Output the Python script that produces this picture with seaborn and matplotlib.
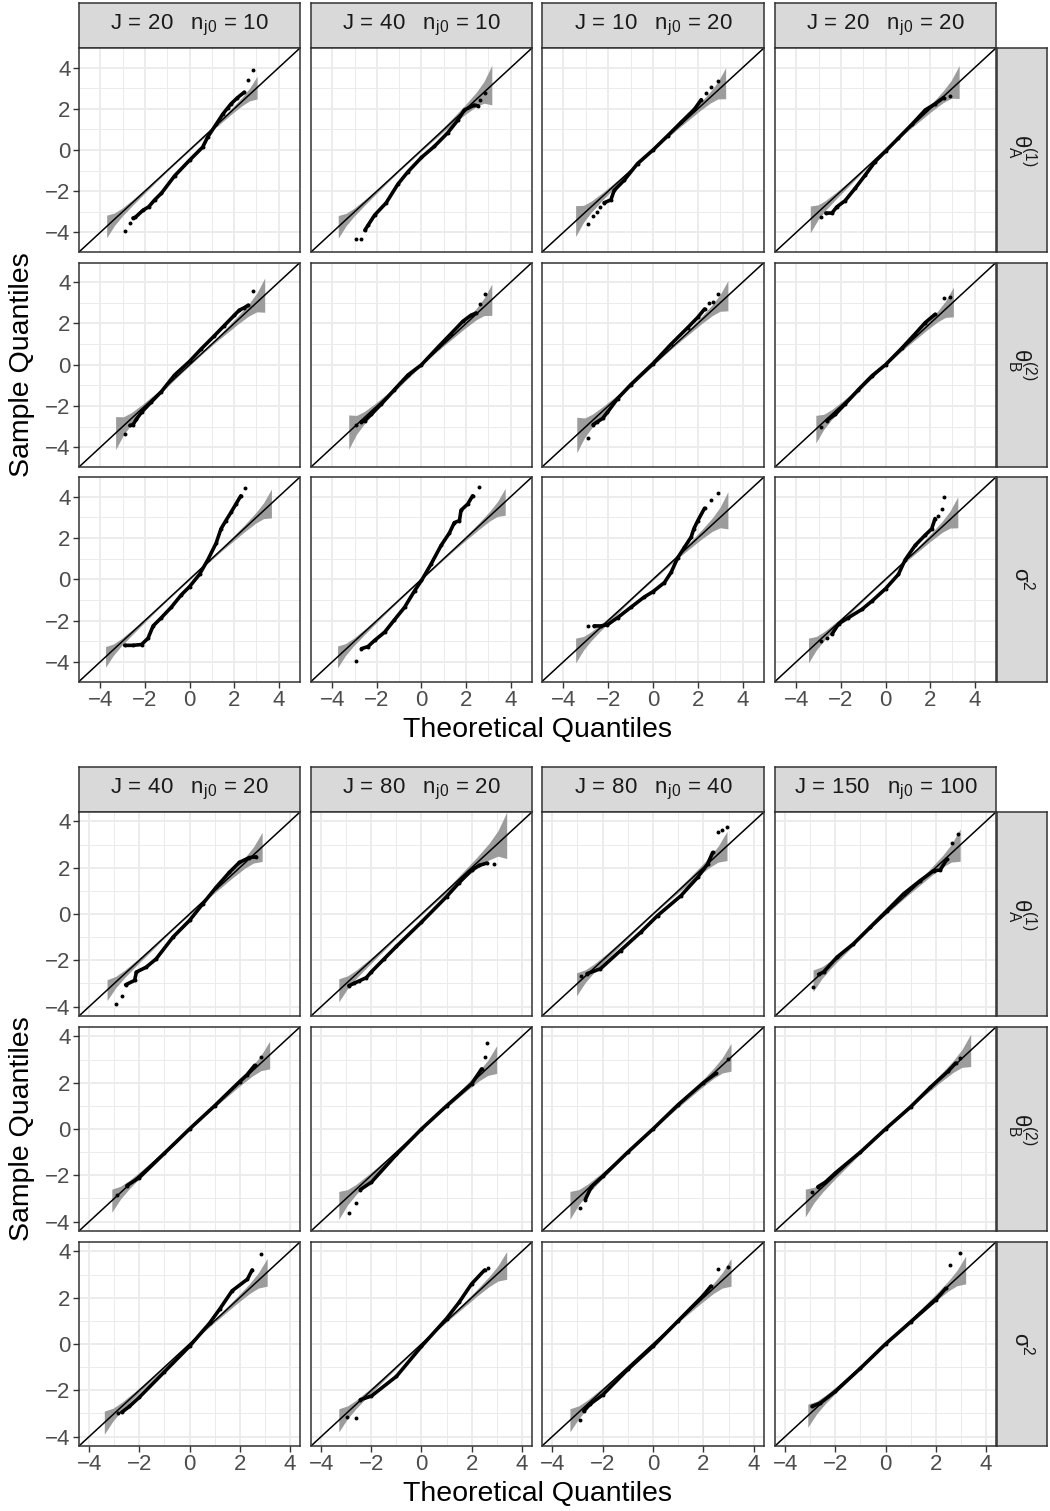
import numpy as np
import matplotlib
matplotlib.use("Agg")
import matplotlib.pyplot as plt
import seaborn as sns

# ---- facet labels ----
top_J = ["20", "40", "10", "20"]
top_n = ["10", "10", "20", "20"]
bot_J = ["40", "80", "80", "150"]
bot_n = ["20", "20", "40", "100"]
row_labels = [r"$\mathrm{\theta_A^{(1)}}$", r"$\mathrm{\theta_B^{(2)}}$", r"$\mathrm{\sigma^2}$"]

# ---- sample quantiles (theoretical x, sample y) ----
# top block, row theta_A
t11_x = [-2.90, -2.67, -2.53, -2.42, -2.08, -1.83, -1.56, -1.26, -0.67, 0.00, 0.59, 0.82, 1.19, 1.49, 1.71, 1.86, 2.15, 2.45, 2.60, 2.85]
t11_y = [-3.92, -3.52, -3.30, -3.26, -2.92, -2.76, -2.42, -2.10, -1.26, -0.50, 0.14, 0.64, 1.24, 1.74, 2.04, 2.24, 2.54, 2.80, 3.38, 3.90]
t12_x = [-2.92, -2.69, -2.54, -2.40, -2.10, -1.58, -1.06, -0.61, 0.00, 0.58, 1.18, 1.62, 1.92, 2.37, 2.54, 2.63, 2.84]
t12_y = [-4.30, -4.30, -3.90, -3.66, -3.16, -2.56, -1.66, -1.06, -0.36, 0.18, 0.84, 1.44, 1.94, 2.18, 2.14, 2.44, 2.78]
t13_x = [-2.90, -2.67, -2.51, -2.36, -2.18, -1.88, -1.73, -1.28, -0.69, 0.00, 0.66, 1.25, 1.85, 2.15, 2.37, 2.60, 2.90]
t13_y = [-3.60, -3.22, -3.02, -2.76, -2.56, -2.42, -1.96, -1.46, -0.66, 0.00, 0.70, 1.34, 1.98, 2.44, 2.78, 3.04, 3.34]
t14_x = [-2.88, -2.67, -2.40, -2.18, -1.81, -1.36, -0.91, -0.46, 0.00, 0.58, 1.18, 1.78, 2.22, 2.60, 2.90]
t14_y = [-3.26, -3.06, -3.06, -2.76, -2.46, -1.86, -1.22, -0.56, -0.06, 0.58, 1.24, 1.94, 2.24, 2.54, 2.64]
# top block, row theta_B
t21_x = [-2.90, -2.67, -2.53, -2.38, -2.15, -1.71, -1.26, -0.67, 0.00, 0.52, 1.11, 1.56, 2.01, 2.23, 2.45, 2.63, 2.85]
t21_y = [-3.36, -2.94, -2.90, -2.64, -2.30, -1.80, -1.30, -0.50, 0.16, 0.76, 1.40, 1.90, 2.40, 2.64, 2.76, 2.88, 3.56]
t22_x = [-2.92, -2.69, -2.54, -2.25, -1.80, -1.21, -0.61, 0.00, 0.73, 1.32, 1.85, 2.22, 2.44, 2.63, 2.84]
t22_y = [-2.94, -2.76, -2.70, -2.40, -1.90, -1.20, -0.50, 0.00, 0.84, 1.50, 2.10, 2.40, 2.50, 2.96, 3.44]
t23_x = [-2.90, -2.67, -2.48, -2.25, -2.03, -1.58, -0.99, 0.00, 0.81, 1.55, 2.00, 2.30, 2.48, 2.67, 2.90]
t23_y = [-3.56, -2.90, -2.76, -2.60, -2.30, -1.64, -0.96, 0.06, 1.00, 1.80, 2.30, 2.70, 3.00, 3.04, 3.44]
t24_x = [-2.88, -2.63, -2.25, -1.81, -1.21, -0.61, 0.00, 0.73, 1.33, 1.78, 2.22, 2.64, 2.90]
t24_y = [-3.00, -2.70, -2.40, -1.90, -1.20, -0.54, 0.00, 0.80, 1.50, 2.04, 2.44, 3.24, 3.30]
# top block, row sigma^2
t31_x = [-2.90, -2.53, -2.15, -1.86, -1.63, -1.26, -0.82, -0.37, 0.00, 0.45, 0.82, 1.19, 1.41, 1.63, 1.86, 2.08, 2.30, 2.48]
t31_y = [-3.20, -3.20, -3.16, -2.86, -2.26, -1.86, -1.36, -0.76, -0.36, 0.24, 0.94, 1.74, 2.44, 2.84, 3.24, 3.64, 4.04, 4.44]
t32_x = [-2.92, -2.69, -2.40, -2.10, -1.65, -1.21, -0.76, -0.31, 0.00, 0.43, 0.88, 1.25, 1.47, 1.70, 1.77, 2.07, 2.29, 2.59]
t32_y = [-3.96, -3.36, -3.26, -2.96, -2.56, -1.96, -1.36, -0.56, -0.06, 0.74, 1.64, 2.24, 2.74, 2.84, 3.34, 3.64, 4.04, 4.48]
t33_x = [-2.90, -2.63, -2.33, -2.03, -1.58, -0.99, -0.39, 0.00, 0.51, 0.81, 1.10, 1.40, 1.70, 1.82, 2.00, 2.30, 2.57, 2.90]
t33_y = [-2.26, -2.26, -2.26, -2.20, -1.86, -1.36, -0.86, -0.60, -0.16, 0.34, 1.04, 1.54, 2.04, 2.44, 2.84, 3.44, 3.84, 4.18]
t34_x = [-2.88, -2.63, -2.40, -2.10, -1.66, -1.06, -0.61, 0.00, 0.58, 0.88, 1.33, 1.78, 2.07, 2.22, 2.37, 2.52, 2.64]
t34_y = [-3.00, -2.86, -2.66, -2.16, -1.86, -1.46, -1.06, -0.46, 0.24, 0.94, 1.64, 2.14, 2.44, 2.94, 3.04, 3.38, 4.00]

# bottom block, row theta_A
b11_x = [-2.92, -2.68, -2.55, -2.19, -2.12, -1.73, -1.33, -0.66, 0.00, 0.53, 1.06, 1.59, 1.99, 2.39, 2.66]
b11_y = [-3.90, -3.55, -3.06, -2.87, -2.51, -2.30, -1.94, -1.00, -0.28, 0.44, 1.15, 1.80, 2.23, 2.44, 2.47]
b12_x = [-2.90, -2.70, -2.50, -2.20, -2.00, -1.50, -1.00, 0.00, 1.00, 1.50, 2.00, 2.30, 2.60, 2.90]
b12_y = [-3.10, -3.00, -2.90, -2.75, -2.50, -1.95, -1.40, -0.35, 0.75, 1.35, 1.90, 2.10, 2.20, 2.15]
b13_x = [-2.86, -2.62, -2.09, -1.29, -0.49, 0.18, 1.11, 1.77, 2.17, 2.37, 2.57, 2.73, 2.93]
b13_y = [-2.66, -2.58, -2.37, -1.58, -0.79, -0.07, 0.79, 1.58, 2.16, 2.66, 3.56, 3.62, 3.77]
b14_x = [-2.90, -2.67, -2.47, -1.94, -1.28, -0.61, 0.06, 0.72, 1.38, 1.92, 2.18, 2.45, 2.65, 2.89]
b14_y = [-3.16, -2.61, -2.51, -1.87, -1.29, -0.57, 0.15, 0.87, 1.44, 1.87, 1.90, 2.37, 3.05, 3.45]
# bottom block, row theta_B
b21_x = [-2.91, -2.50, -2.00, -1.00, 0.00, 1.00, 2.00, 2.30, 2.60, 2.87]
b21_y = [-2.87, -2.45, -2.10, -1.05, 0.00, 1.00, 2.05, 2.35, 2.75, 3.10]
b22_x = [-2.90, -2.63, -2.44, -2.00, -1.00, 0.00, 1.00, 2.00, 2.40, 2.55, 2.60]
b22_y = [-3.65, -3.20, -2.62, -2.30, -1.10, 0.00, 1.00, 1.95, 2.60, 3.10, 3.70]
b23_x = [-2.89, -2.69, -2.45, -2.00, -1.00, 0.00, 1.00, 2.00, 2.50, 2.98]
b23_y = [-3.40, -3.05, -2.50, -2.05, -1.00, 0.00, 1.05, 2.00, 2.40, 3.04]
b24_x = [-2.93, -2.70, -2.40, -2.00, -1.00, 0.00, 1.00, 1.79, 2.50, 2.80, 2.98]
b24_y = [-2.71, -2.50, -2.30, -1.90, -1.00, 0.00, 0.95, 1.80, 2.50, 2.85, 3.06]
# bottom block, row sigma^2
b31_x = [-2.87, -2.70, -2.40, -2.00, -1.00, 0.00, 0.80, 1.20, 1.70, 2.31, 2.50, 2.87]
b31_y = [-3.00, -2.95, -2.70, -2.30, -1.20, -0.10, 0.90, 1.50, 2.30, 2.80, 3.20, 3.90]
b32_x = [-2.96, -2.60, -2.44, -2.00, -1.00, 0.00, 1.00, 1.50, 2.00, 2.52, 2.65]
b32_y = [-3.15, -3.18, -2.41, -2.25, -1.40, -0.10, 1.10, 1.80, 2.60, 3.20, 3.30]
b33_x = [-2.89, -2.75, -2.50, -2.00, -1.00, 0.00, 1.00, 2.00, 2.30, 2.60, 2.98]
b33_y = [-3.30, -2.90, -2.60, -2.20, -1.10, -0.10, 1.00, 2.10, 2.50, 3.25, 3.35]
b34_x = [-2.93, -2.60, -2.00, -1.00, 0.00, 1.00, 2.00, 2.40, 2.58, 2.98]
b34_y = [-2.70, -2.55, -2.05, -1.05, 0.00, 0.95, 1.90, 2.40, 3.40, 3.95]

# isolated dots at the low / high end of each panel (rest is a dense run)
top_lone = [(2, 2), (2, 2), (4, 3), (1, 1),
            (1, 1), (1, 2), (1, 3), (1, 2),
            (0, 1), (1, 1), (1, 2), (2, 3)]
bot_lone = [(2, 0), (0, 1), (1, 3), (1, 2),
            (1, 1), (2, 2), (1, 1), (1, 1),
            (1, 1), (2, 1), (1, 2), (0, 2)]

# confidence band per panel: x start, x end, half width at start, at end
top_band = [(-3.71, 3.03, 0.55, 0.55), (-3.73, 3.15, 0.55, 0.96), (-3.45, 3.24, 0.75, 0.75), (-3.37, 3.30, 0.65, 0.80),
            (-3.31, 3.37, 0.80, 0.83), (-3.26, 3.15, 0.83, 0.76), (-3.40, 3.34, 0.86, 0.73), (-3.12, 3.04, 0.67, 0.72),
            (-3.76, 3.67, 0.50, 0.70), (-3.76, 3.75, 0.53, 0.65), (-3.45, 3.34, 0.60, 0.90), (-3.45, 3.24, 0.60, 0.75)]
bot_band = [(-3.29, 2.90, 0.45, 0.63), (-3.30, 3.40, 0.50, 1.00), (-3.04, 2.94, 0.50, 0.63), (-2.89, 2.98, 0.47, 0.70),
            (-3.10, 3.20, 0.50, 0.60), (-3.30, 3.00, 0.60, 0.60), (-3.30, 3.10, 0.60, 0.60), (-3.20, 3.40, 0.60, 0.70),
            (-3.40, 3.10, 0.50, 0.60), (-3.30, 3.40, 0.50, 0.60), (-3.30, 3.10, 0.50, 0.60), (-3.10, 3.20, 0.50, 0.60)]
# shape of the band seen near its ends: distance from end, share of end half width
band_step = [0.0, 0.35, 0.7, 1.2, 2.2, 2.8]
band_frac = [1.0, 0.55, 0.36, 0.24, 0.10, 0.06]

top_x = [t11_x, t12_x, t13_x, t14_x, t21_x, t22_x, t23_x, t24_x, t31_x, t32_x, t33_x, t34_x]
top_y = [t11_y, t12_y, t13_y, t14_y, t21_y, t22_y, t23_y, t24_y, t31_y, t32_y, t33_y, t34_y]
bot_x = [b11_x, b12_x, b13_x, b14_x, b21_x, b22_x, b23_x, b24_x, b31_x, b32_x, b33_x, b34_x]
bot_y = [b11_y, b12_y, b13_y, b14_y, b21_y, b22_y, b23_y, b24_y, b31_y, b32_y, b33_y, b34_y]

# ---- style ----
sns.set_theme(style="white")
plt.rcParams['font.family'] = ['Liberation Sans', 'DejaVu Sans']
plt.rcParams['mathtext.fontset'] = 'custom'
plt.rcParams['mathtext.rm'] = 'Liberation Sans'
plt.rcParams['mathtext.it'] = 'Liberation Sans:italic'
plt.rcParams['mathtext.bf'] = 'Liberation Sans:bold'

BORDER = '#333333'
GRID = '#EBEBEB'
STRIP = '#D9D9D9'
BAND = '#9C9C9C'
TICKTXT = '#4D4D4D'

W, H = 1050, 1511
fig = plt.figure(figsize=(W / 100, H / 100), dpi=100)
fig.patch.set_facecolor('white')


def box(x0, y0, x1, y1):
    return [x0 / W, 1 - y1 / H, (x1 - x0) / W, (y1 - y0) / H]


col_px = [(79, 300), (311, 532), (542, 764), (775, 996)]
top_rows = [(48, 252), (262.5, 467), (477, 681.5)]
bot_rows = [(812, 1016), (1027, 1231), (1242, 1446)]


def add_strip(px, text, rotation=0):
    sa = fig.add_axes(box(*px))
    sa.set_facecolor(STRIP)
    sa.set_xticks([])
    sa.set_yticks([])
    for s in sa.spines.values():
        s.set_color(BORDER)
        s.set_linewidth(1.1)
    sa.text(0.5, 0.5, text, ha='center', va='center', rotation=rotation,
            fontsize=16, color='#1A1A1A', transform=sa.transAxes)


def draw_panel(ax, qx, qy, lone, band, lim, left, bottom):
    x_lo, x_hi, hw_lo, hw_hi = band
    bx = np.array([x_lo + s for s in band_step] + [x_hi - s for s in band_step[::-1]])
    bw = np.array([hw_lo * f for f in band_frac] + [hw_hi * f for f in band_frac[::-1]])
    ax.fill_between(bx, bx - bw, bx + bw, color=BAND, lw=0, zorder=2)
    ax.axline((0, 0), slope=1, color='black', lw=1.1, zorder=3)
    n_lo, n_hi = lone
    sns.lineplot(x=qx[n_lo:len(qx) - n_hi], y=qy[n_lo:len(qy) - n_hi], sort=False,
                 estimator=None, color='black', lw=2.6, ax=ax, zorder=4)
    sns.scatterplot(x=qx, y=qy, color='black', s=8, linewidth=0, ax=ax, zorder=5)

    ax.set_xlim(lim)
    ax.set_ylim(lim)
    ax.set_xticks([-4, -2, 0, 2, 4])
    ax.set_yticks([-4, -2, 0, 2, 4])
    ax.set_xticks([-3, -1, 1, 3], minor=True)
    ax.set_yticks([-3, -1, 1, 3], minor=True)
    ax.set_xticklabels(['\u22124', '\u22122', '0', '2', '4'])
    ax.set_yticklabels(['\u22124', '\u22122', '0', '2', '4'])
    ax.grid(which='major', color=GRID, lw=1.3)
    ax.grid(which='minor', color=GRID, lw=0.7)
    ax.set_axisbelow(True)
    ax.set_facecolor('white')
    for s in ax.spines.values():
        s.set_color(BORDER)
        s.set_linewidth(1.1)
        s.set_zorder(6)
    ax.tick_params(which='minor', length=0)
    ax.tick_params(which='major', length=4, width=1.0, color=BORDER,
                   labelsize=16, labelcolor=TICKTXT, pad=2)
    ax.tick_params(axis='y', left=left, labelleft=left)
    ax.tick_params(axis='x', bottom=bottom, labelbottom=bottom)
    ax.set_xlabel('')
    ax.set_ylabel('')


def draw_block(rows, xs, ys, lones, bands, Js, ns, lim, strip_top):
    for c in range(4):
        x0, x1 = col_px[c]
        add_strip((x0, strip_top, x1, rows[0][0]),
                  r"$\mathrm{J\,=\,%s\quad n_{j0}\,=\,%s}$" % (Js[c], ns[c]))
    for r in range(3):
        y0, y1 = rows[r]
        add_strip((997, y0, 1047, y1), row_labels[r], rotation=-90)
        for c in range(4):
            x0, x1 = col_px[c]
            ax = fig.add_axes(box(x0, y0, x1, y1))
            k = r * 4 + c
            draw_panel(ax, xs[k], ys[k], lones[k], bands[k], lim, c == 0, r == 2)
    fig.text(537.5 / W, 1 - (rows[2][1] + 48) / H, 'Theoretical Quantiles',
             ha='center', va='center', fontsize=20.5, color='black')
    fig.text(22 / W, 1 - ((rows[0][0] + rows[2][1]) / 2) / H, 'Sample Quantiles',
             ha='center', va='center', rotation=90, fontsize=20.5, color='black')


draw_block(top_rows, top_x, top_y, top_lone, top_band, top_J, top_n, (-4.95, 4.95), 3)
draw_block(bot_rows, bot_x, bot_y, bot_lone, bot_band, bot_J, bot_n, (-4.41, 4.41), 767)

fig.savefig('out.png', dpi=100)
